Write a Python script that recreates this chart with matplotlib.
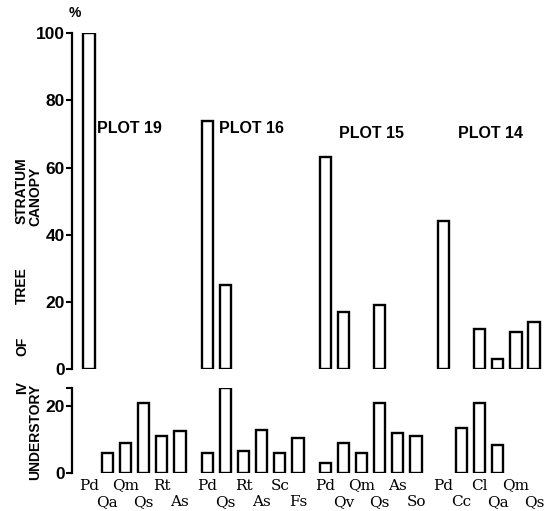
import matplotlib.pyplot as plt
import numpy as np

plots = ['PLOT 19', 'PLOT 16', 'PLOT 15', 'PLOT 14']
species = [
    ['Pd', 'Qa', 'Qm', 'Qs', 'Rt', 'As'],
    ['Pd', 'Qs', 'Rt', 'As', 'Sc', 'Fs'],
    ['Pd', 'Qv', 'Qm', 'Qs', 'As', 'So'],
    ['Pd', 'Cc', 'Cl', 'Qa', 'Qm', 'Qs'],
]
canopy = [
    [100, 0, 0, 0, 0, 0],
    [74, 25, 0, 0, 0, 0],
    [63, 17, 0, 19, 0, 0],
    [44, 0, 12, 3, 11, 14],
]
understory = [
    [0, 6, 9, 21, 11, 12.5],
    [6, 25.5, 6.5, 13, 6, 10.5],
    [3, 9, 6, 21, 12, 11],
    [0, 13.5, 21, 8.5, 0, 0],
]

SANS = 'Liberation Sans'
SERIF = 'DejaVu Serif'

GAP = 6.5
xs = np.concatenate([g * GAP + np.arange(len(s)) for g, s in enumerate(species)])
labels = [lab for s in species for lab in s]
can = np.concatenate(canopy).astype(float)
und = np.concatenate(understory).astype(float)

fig = plt.figure(figsize=(5.57, 5.11), dpi=100)
ax1 = fig.add_axes([0.1293, 0.278, 0.8618, 0.657])
ax2 = fig.add_axes([0.1293, 0.0744, 0.8618, 0.1663])

bar_kw = dict(width=0.62, facecolor='white', edgecolor='black', linewidth=1.7)
m = can > 0
ax1.bar(xs[m], can[m], **bar_kw)
m = und > 0
ax2.bar(xs[m], und[m], **bar_kw)

for ax in (ax1, ax2):
    ax.set_xlim(-0.94, 25.49)
    for side in ('top', 'right', 'bottom'):
        ax.spines[side].set_visible(False)
    ax.spines['left'].set_linewidth(1.6)
    ax.tick_params(axis='y', which='both', direction='out', length=4,
                   width=1.5, pad=1, labelsize=12.5)

ax1.set_ylim(0, 100)
ax1.set_yticks([0, 20, 40, 60, 80, 100])
ax1.set_xticks([])
ax2.set_ylim(0, 25.5)
ax2.set_yticks([0, 20])
ax2.set_yticks([25.5], minor=True)
for ax in (ax1, ax2):
    for t in ax.get_yticklabels():
        t.set_fontfamily(SANS)
        t.set_fontweight('bold')

# species labels in two staggered rows
ax2.set_xticks(xs[0::2])
ax2.set_xticklabels(labels[0::2], fontfamily=SERIF, fontsize=11)
ax2.set_xticks(xs[1::2], minor=True)
ax2.set_xticklabels(labels[1::2], minor=True, fontfamily=SERIF, fontsize=11)
ax2.tick_params(axis='x', which='major', length=0, pad=4)
ax2.tick_params(axis='x', which='minor', length=0, pad=16)

# plot titles
title_pos = [(0.45, 71.7), (7.15, 71.7), (13.75, 70.2), (20.3, 70.2)]
for name, (tx, ty) in zip(plots, title_pos):
    ax1.text(tx, ty, name, ha='left', va='center', fontsize=11.5,
             fontfamily=SANS, fontweight='bold')

fig.text(75 / 557, 1 - 13 / 511, '%', ha='center', va='center', fontsize=10,
         fontfamily=SANS, fontweight='bold')

# rotated axis labels
lab_kw = dict(rotation=90, ha='center', va='center', fontsize=10,
              fontfamily=SANS, fontweight='bold')
for word, yc in [('IV', 388), ('OF', 346), ('TREE', 286), ('STRATUM', 191)]:
    fig.text(22 / 557, 1 - yc / 511, word, **lab_kw)
fig.text(35 / 557, 1 - 196 / 511, 'CANOPY', **lab_kw)
fig.text(35 / 557, 1 - 432 / 511, 'UNDERSTORY', **lab_kw)

fig.savefig('out.png', dpi=100)
